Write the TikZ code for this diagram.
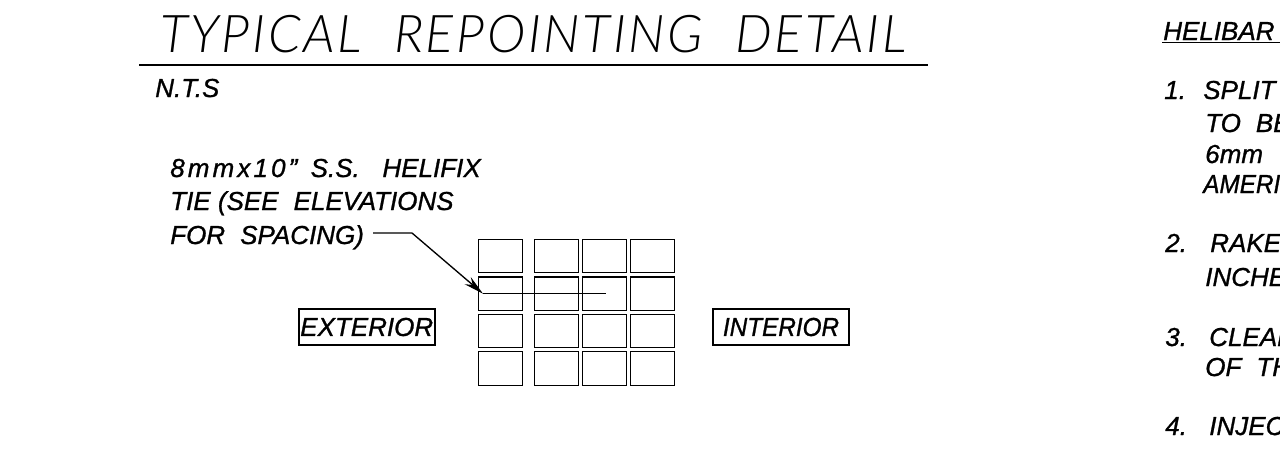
\documentclass[tikz,border=0pt]{standalone}
\usepackage{fontspec}
\setmainfont{Liberation Sans}
\newfontfamily\titlefont[UprightFont=* Light Italic, LetterSpace=5]{Lato}
\newfontfamily\notefont[UprightFont=* Italic, FakeBold=1]{Liberation Sans}
\newfontfamily\widefont[UprightFont=* Italic, FakeBold=1, LetterSpace=12]{Liberation Sans}
\newfontfamily\narrowfont[UprightFont=* Italic, FakeBold=1, FakeStretch=0.935]{Liberation Sans}
\usetikzlibrary{arrows.meta}
\tikzset{
	note/.style={anchor=base west, inner sep=0pt, font=\fontsize{19.5}{19.5}\notefont},
	title/.style={anchor=base west, inner sep=0pt, font=\fontsize{39}{39}\titlefont},
	side/.style={draw, line width=1.2pt, inner sep=0pt, minimum width=102pt, minimum height=27pt, font=\fontsize{19.5}{19.5}\notefont},
	brick/.style={draw, line width=0.9pt, inner sep=0pt, minimum width=33pt, minimum height=25pt},
	leader/.style={line width=1pt},
}
\begin{document}
\begin{tikzpicture}[x=0.75pt, y=-0.75pt]
	\useasboundingbox (0, 0) rectangle (1280, 461);
	\clip (0, 0) rectangle (1280, 461);

	\node[title] at (160, 52) (heading) {TYPICAL\hspace{0.62em}REPOINTING\hspace{0.62em}DETAIL};
	\coordinate (ruleL) at (139, 65);
	\coordinate (ruleR) at (928, 65);
	\draw[line width=1.1pt] (ruleL) -- (ruleR);
	\node[note] at (155, 97) (scale) {N.T.S};

	\node[note] at (170, 177) (tie1) {{\widefont 8mmx10”}\hspace{10pt}S.S.\hspace{17pt}HELIFIX};
	\node[note] at (170, 210) (tie2) {TIE (SEE\hspace{0.3em} ELEVATIONS};
	\node[note] at (170, 244) (tie3) {FOR\hspace{0.3em} SPACING)};

	\node[side] at (366.7, 327) (exterior) {EXTERIOR};
	\node[side] at (781, 327) (interior) {\narrowfont INTERIOR\hspace{8pt}};

	\foreach \col/\x in {1/500.3, 2/556.2, 3/604.2, 4/652.2}
		\foreach \row/\y in {1/256, 2/293.7, 3/331.2, 4/368.5}
			\node[brick] at (\x, \y) (brick\col\row) {};

	\coordinate (tieL) at (483, 293.7);
	\coordinate (tieR) at (605.7, 293.7);
	\coordinate (kink) at (412, 233);
	\coordinate (leadL) at (373, 233);
	\draw[line width=1.1pt] (tieL) -- (tieR);
	\draw[leader, -{Stealth[length=15pt, width=7pt]}] (leadL) -- (kink) -- (tieL);

	\node[note] at (1163, 40) (notes) {HELIBAR};
	\coordinate (underL) at (1162, 42.5);
	\coordinate (underR) at (1280, 42.5);
	\draw[line width=1.1pt] (underL) -- (underR);

	\node[note] at (1164, 99) (n1) {1.};
	\node[note] at (1203, 99) (n1a) {SPLIT};
	\node[note] at (1205, 132) (n1b) {TO\hspace{0.3em} BE};
	\node[note] at (1205, 163) (n1c) {6mm};
	\node[note] at (1203, 193) (n1d) {\narrowfont AMERI};

	\node[note] at (1165, 252) (n2) {2.};
	\node[note] at (1210, 252) (n2a) {RAKE};
	\node[note] at (1205, 286) (n2b) {INCHE};

	\node[note] at (1165, 346) (n3) {3.};
	\node[note] at (1209, 346) (n3a) {CLEAN};
	\node[note] at (1205, 376) (n3b) {OF\hspace{0.3em} TH};

	\node[note] at (1165, 435) (n4) {4.};
	\node[note] at (1209, 435) (n4a) {INJEC};
\end{tikzpicture}
\end{document}
